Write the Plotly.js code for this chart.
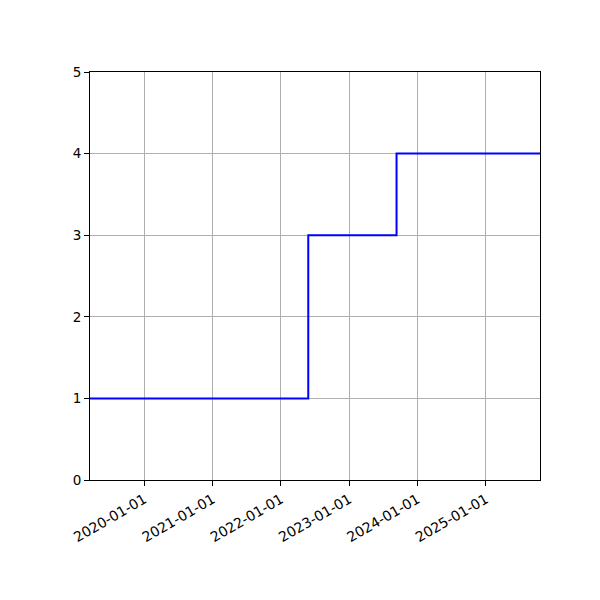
<!DOCTYPE html>
<html>
<head>
<meta charset="utf-8">
<script src="https://cdn.plot.ly/plotly-3.0.1.min.js"></script>
<style>html,body{margin:0;padding:0;background:#fff;}#chart{width:600px;height:600px;}</style>
</head>
<body>
<div id="chart"></div>
<script>
const dates = ['2019-03-17', '2022-05-27', '2023-09-11', '2025-10-17'];
const values = [1, 3, 4, 4];
const tickDates = ['2020-01-01', '2021-01-01', '2022-01-01', '2023-01-01', '2024-01-01', '2025-01-01'];
const tickLabels = ['2020-01-01', '2021-01-01', '2022-01-01', '2023-01-01', '2024-01-01', '2025-01-01'];
const yTicks = [0, 1, 2, 3, 4, 5];

const trace = {
  x: dates, y: values, type: 'scatter', mode: 'lines',
  line: {shape: 'hv', color: '#0000ff', width: 2}
};
const layout = {
  width: 600, height: 600,
  margin: {l: 90, r: 60, t: 72, b: 120},
  paper_bgcolor: '#fff', plot_bgcolor: '#fff',
  font: {family: 'DejaVu Sans', size: 13.5, color: '#000'},
  showlegend: false,
  xaxis: {
    type: 'date', range: [dates[0], dates[dates.length - 1]],
    tickvals: tickDates, ticktext: tickLabels, tickangle: -30,
    tickfont: {size: 14},
    showgrid: true, gridcolor: '#b0b0b0', gridwidth: 1,
    showline: true, linecolor: '#000', linewidth: 1, mirror: true,
    ticks: 'outside', ticklen: 5, tickcolor: '#000', zeroline: false
  },
  yaxis: {
    range: [0, 5], tickvals: yTicks,
    showgrid: true, gridcolor: '#b0b0b0', gridwidth: 1,
    showline: true, linecolor: '#000', linewidth: 1, mirror: true,
    ticks: 'outside', ticklen: 5, tickcolor: '#000', zeroline: false
  }
};
Plotly.newPlot('chart', [trace], layout, {displayModeBar: false, staticPlot: true});
</script>
</body>
</html>
